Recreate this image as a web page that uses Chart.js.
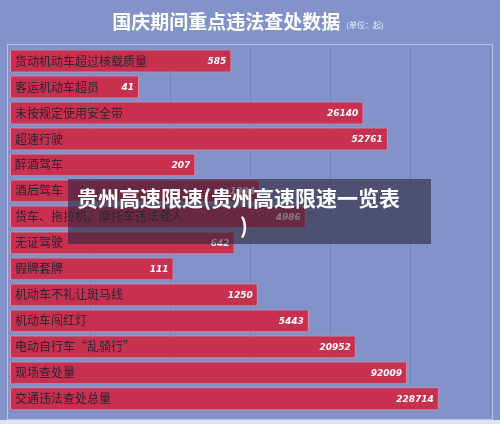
<!DOCTYPE html>
<html>
<head>
<meta charset="utf-8">
<script src="https://cdn.jsdelivr.net/npm/chart.js@4"></script>
<style>
  body { margin: 0; background: #8193c8; }
  #wrap { position: relative; width: 500px; height: 424px; }
  #overlay {
    position: absolute; left: 68px; top: 179px; width: 363px; height: 65px;
    background: rgba(45, 38, 58, 0.62);
    color: #fff; font: bold 21px "Noto Sans CJK SC", sans-serif;
  }
  #overlay span { position: absolute; white-space: nowrap; line-height: 28px; }
</style>
</head>
<body>
<div id="wrap">
  <canvas id="chart" width="500" height="424"></canvas>
  <div id="overlay"><span style="left:9px;top:4px">贵州高速限速(贵州高速限速一览表</span><span style="left:172px;top:32px">)</span></div>
</div>
<script>
// Kategorier och värden (antal ärenden)
const categories = [
    '货动机动车超过核载质量', '客运机动车超员', '未按规定使用安全带', '超速行驶',
    '醉酒驾车', '酒后驾车', '货车、拖拉机、摩托车违法载人', '无证驾驶',
    '假牌套牌', '机动车不礼让斑马线', '机动车闯红灯', '电动自行车“乱骑行”',
    '现场查处量', '交通违法查处总量'
];
const counts = [585, 41, 26140, 52761, 207, 1334, 4986, 642, 111, 1250, 5443, 20952, 92009, 228714];
const chartTitle = '国庆期间重点违法查处数据';
const unitText = '(单位：起)';

/**
 * Ritar rubrik, enhet och ram runt diagrammet.
 */
const decorPlugin = {
    id: 'decor',
    beforeDraw(chart) {
        const c = chart.ctx;
        c.save();
        c.strokeStyle = 'rgba(205, 214, 242, 0.7)';
        c.lineWidth = 1;
        c.strokeRect(7.5, 44.5, 485, 375);
        c.fillStyle = '#dfe3f2';
        c.fillRect(0, 420, 500, 4);
        c.restore();
    },
    afterDraw(chart) {
        const c = chart.ctx;
        c.save();
        c.font = 'bold 19px "Noto Sans CJK SC"';
        const w1 = c.measureText(chartTitle).width;
        c.font = '8px "Noto Sans CJK SC"';
        const w2 = c.measureText(unitText).width;
        const x0 = 248 - (w1 + 6 + w2) / 2;
        c.textBaseline = 'middle';
        c.fillStyle = '#ffffff';
        c.font = 'bold 19px "Noto Sans CJK SC"';
        c.fillText(chartTitle, x0, 22);
        c.font = '8px "Noto Sans CJK SC"';
        c.fillStyle = '#eef0fa';
        c.fillText(unitText, x0 + w1 + 6, 25);
        c.restore();
    }
};

/**
 * Skriver värdet längst ut i varje stapel.
 */
const valuePlugin = {
    id: 'values',
    afterDatasetsDraw(chart) {
        const c = chart.ctx;
        const meta = chart.getDatasetMeta(0);
        c.save();
        c.font = 'italic bold 9px "DejaVu Sans"';
        c.fillStyle = '#ffffff';
        c.textAlign = 'right';
        c.textBaseline = 'middle';
        meta.data.forEach((bar, i) => {
            c.fillText(String(counts[i]), bar.x - 5, bar.y + 1);
        });
        c.restore();
    }
};

new Chart(document.getElementById('chart'), {
    type: 'bar',
    data: {
        labels: categories,
        datasets: [{
            data: counts,
            backgroundColor: '#c8304f',
            borderColor: '#e58aa5',
            borderWidth: 1,
            borderSkipped: false,
            categoryPercentage: 1,
            barPercentage: 0.88
        }]
    },
    options: {
        indexAxis: 'y',
        responsive: false,
        animation: false,
        layout: { padding: { left: 10, right: 10, top: 48, bottom: 10 } },
        plugins: { legend: { display: false }, tooltip: { enabled: false } },
        scales: {
            x: {
                type: 'logarithmic',
                min: 1,
                max: 1000000,
                afterBuildTicks: s => { s.ticks = s.ticks.filter(t => Math.abs(Math.log10(t.value) - Math.round(Math.log10(t.value))) < 1e-9); },
                afterFit: s => { s.height = 0; },
                ticks: { display: false },
                border: { display: false },
                grid: { color: 'rgba(85, 102, 165, 0.3)', drawTicks: false }
            },
            y: {
                afterFit: s => { s.width = 0; },
                border: { display: false },
                grid: { display: false },
                ticks: {
                    mirror: true,
                    padding: 5,
                    color: '#2b2233',
                    font: { family: '"Noto Sans CJK SC"', size: 12 },
                    z: 1
                }
            }
        }
    },
    plugins: [decorPlugin, valuePlugin]
});
</script>
</body>
</html>
